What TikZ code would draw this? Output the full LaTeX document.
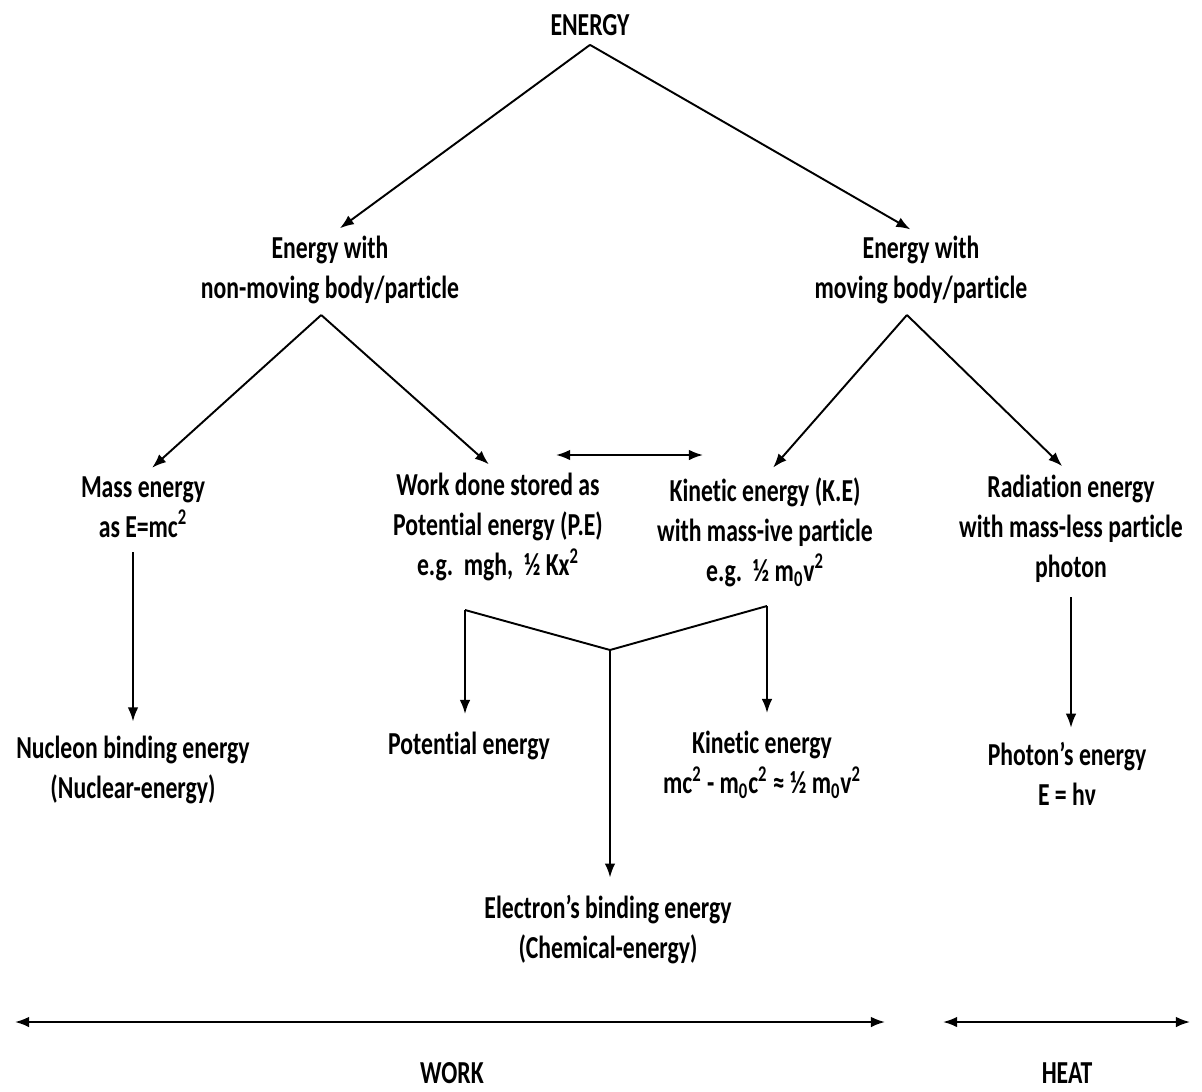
\documentclass[tikz,border=0pt]{standalone}
\usepackage{fontspec}
\setmainfont{Carlito}[Ligatures=NoCommon]
\usetikzlibrary{arrows.meta}
\usetikzlibrary{positioning}

\begin{document}
\begin{tikzpicture}[
            x=0.02cm, y=-0.02cm,
            every node/.style={align=center,inner sep=0pt,yscale=1.35,
                font=\bfseries\fontsize{13.5}{16.9}\selectfont},
            line/.style={line width=1.1pt},
            gap/.style={shorten <=0pt,shorten >=7pt}
        ]
        \tikzset{>={Latex[length=8pt,width=6pt]}}
        \useasboundingbox (0,0) rectangle (1202,1091);
        \node (energy) at (590,25) {ENERGY};
        \node (still) at (330,270) {Energy with\\ non-moving body/particle};
        \node (moving) at (921,270) {Energy with\\ moving body/particle};
        \node (mass) at (143,507) {Mass energy\\ as E=mc\textsuperscript{2}};
        \node (work done) at (498,527) {Work done stored as\\ Potential energy (P.E)\\ e.g.\ \ mgh,\ \ ½ Kx\textsuperscript{2}};
        \node (kinetic) at (765,532) {Kinetic energy (K.E)\\ with mass-ive particle\\ e.g.\ \ ½ m\textsubscript{0}v\textsuperscript{2}};
        \node (radiation) at (1071,529) {Radiation energy\\ with mass-less particle\\ photon};
        \node (nucleon) at (133,770) {Nucleon binding energy\\ (Nuclear-energy)};
        \node (potential) at (469,746) {Potential energy};
        \node (kinetic 2) at (762,765) {Kinetic energy\\ mc\textsuperscript{2} - m\textsubscript{0}c\textsuperscript{2} ≈ ½ m\textsubscript{0}v\textsuperscript{2}};
        \node (photon) at (1067,774) {Photon’s energy\\ E = hν};
        \node (electron) at (608,930) {Electron’s binding energy\\ (Chemical-energy)};
        \node (work) at (452,1073) {WORK};
        \node (heat) at (1067,1073) {HEAT};

        \coordinate (pe top) at (556,455);
        \coordinate (ke top) at (703,455);
        \coordinate (pe foot) at (465,610);
        \coordinate (ke foot) at (767,606);
        \coordinate (split) at (610,650);
        \coordinate (work left) at (15,1022);
        \coordinate (work right) at (885,1022);
        \coordinate (heat left) at (943,1022);
        \coordinate (heat right) at (1190,1022);

        \draw[->,line,gap] ([yshift=-5pt]energy.south) -- (still.north);
        \draw[->,line,gap] ([yshift=-5pt]energy.south) -- (moving.north);
        \draw[->,line,gap] ([xshift=-5pt,yshift=-6pt]still.south) -- (mass.north);
        \draw[->,line,gap] ([xshift=-5pt,yshift=-6pt]still.south) -- (work done.north);
        \draw[->,line,gap] ([xshift=-8pt,yshift=-6pt]moving.south) -- (kinetic.north);
        \draw[->,line,gap] ([xshift=-8pt,yshift=-6pt]moving.south) -- (radiation.north);
        \draw[<->,line] (pe top) -- (ke top);
        \draw[->,line,shorten <=8pt,shorten >=8pt] (nucleon.north |- mass.south) -- (nucleon.north);
        \draw[->,line,shorten <=8pt,shorten >=8pt] (radiation.south) -- (radiation.south |- photon.north);
        \draw[line] (pe foot) -- (split) -- (ke foot);
        \draw[->,line,shorten >=10pt] (pe foot) -- (pe foot |- potential.north);
        \draw[->,line,shorten >=10pt] (ke foot) -- (ke foot |- kinetic 2.north);
        \draw[->,line,shorten >=10pt] (split) -- (split |- electron.north);
        \draw[<->,line] (work left) -- (work right);
        \draw[<->,line] (heat left) -- (heat right);
    \end{tikzpicture}
\end{document}
